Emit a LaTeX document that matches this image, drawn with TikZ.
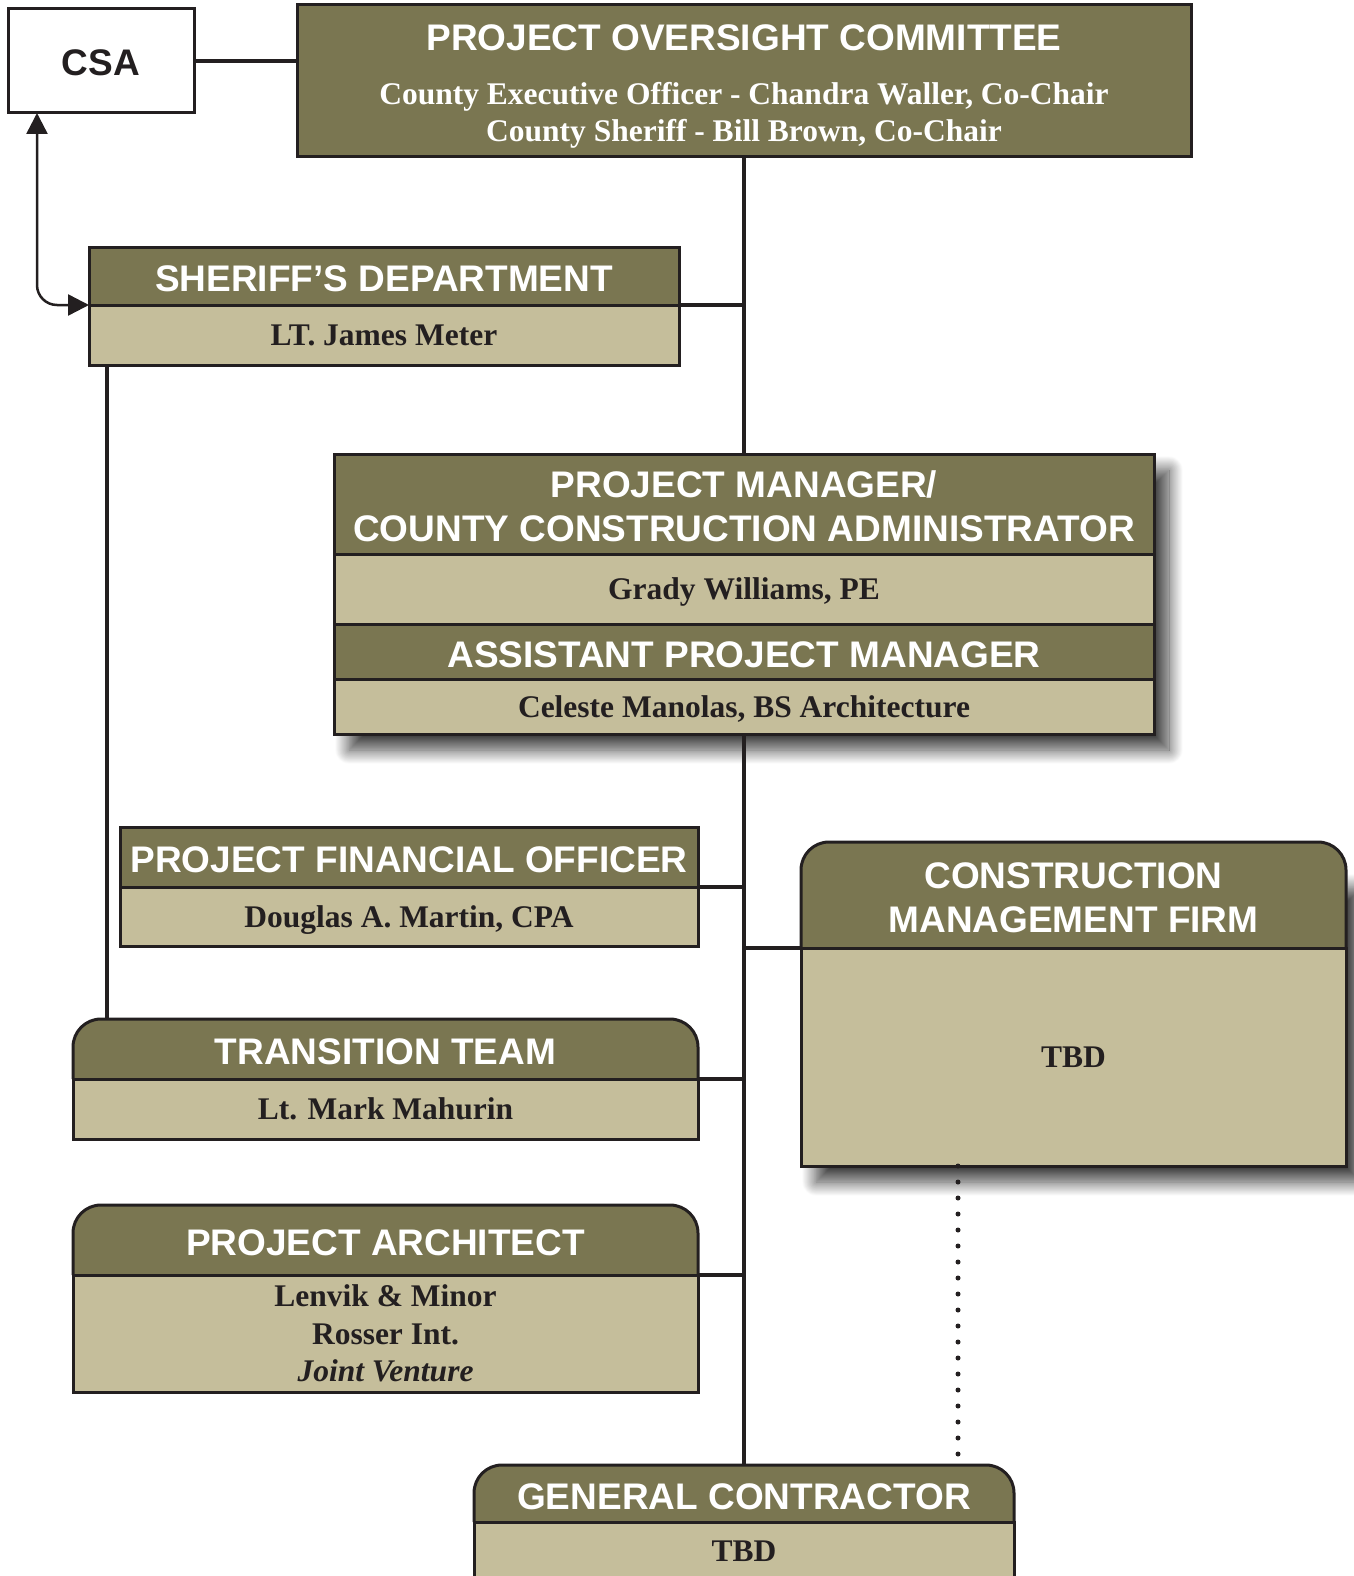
\documentclass[tikz,border=0pt]{standalone}
\usepackage{fontspec}
\setmainfont{Liberation Serif}
\newfontfamily\hsans{Liberation Sans}
\usetikzlibrary{arrows.meta,shadows.blur,backgrounds}
\definecolor{olivehd}{RGB}{122,118,81}
\definecolor{tanbody}{RGB}{197,190,155}
\definecolor{inkline}{RGB}{35,31,32}
\newcommand\hstrut{\rule{0pt}{31.5pt}}
\tikzset{
  part/.style={rectangle, inner sep=0pt, outer sep=0pt, text depth=0pt, align=center},
  box/.style={part, draw=inkline, line width=3pt},
  hfont/.style={font=\hsans\bfseries\fontsize{37}{44}\selectfont},
  hdr/.style={box, fill=olivehd, text=white, hfont},
  hdrr/.style={part, text=white, hfont},
  bdy/.style={box, fill=tanbody, text=inkline, font=\bfseries\fontsize{31.5}{37.5}\selectfont},
  conn/.style={draw=inkline, line width=4pt},
  arrowln/.style={draw=inkline, line width=2.5pt, rounded corners=20pt,
    {Triangle[length=21pt,width=21pt]}-{Triangle[length=21pt,width=21pt]}},
  dotline/.style={draw=inkline, line width=5pt, line cap=round, dash pattern=on 0pt off 16pt},
  roundhdr/.style={fill=olivehd, draw=inkline, line width=3pt, rounded corners=28pt},
  shade/.style={blur shadow={shadow xshift=15pt, shadow yshift=-16pt, shadow blur radius=14pt, shadow blur steps=20, shadow opacity=75}},
}
\begin{document}
\begin{tikzpicture}[x=1pt, y=-1pt]
\useasboundingbox (0,0) rectangle (1353,1576);

% CSA
\node[box, fill=white, text=inkline, hfont, minimum width=186, minimum height=104] (csa) at (101,61) {\rule{0pt}{29pt}CSA};

% Project Oversight Committee
\node[box, fill=olivehd, text=white, minimum width=894, minimum height=151,
  font=\bfseries\fontsize{31.5}{37.5}\selectfont] (poc) at (744,80.5)
  {{\hsans\fontsize{37}{37.5}\selectfont\hstrut PROJECT OVERSIGHT COMMITTEE}\\[16pt]
   County Executive Officer - Chandra Waller, Co-Chair\\
   County Sheriff - Bill Brown, Co-Chair};

% Sheriff's Department
\node[hdr, minimum width=590, minimum height=58] (sherH) at (384,276) {\hstrut SHERIFF’S DEPARTMENT};
\node[bdy, minimum width=590, minimum height=60] (sherB) at (384,335) {LT. James Meter};

% Project manager block
\node[hdr, minimum width=820, minimum height=100] (pmH1) at (744,504) {\hstrut PROJECT MANAGER/\\COUNTY CONSTRUCTION ADMINISTRATOR};
\node[bdy, minimum width=820, minimum height=70] (pmB1) at (744,589) {Grady Williams, PE};
\node[hdr, minimum width=820, minimum height=55] (pmH2) at (744,651.5) {\hstrut ASSISTANT PROJECT MANAGER};
\node[bdy, minimum width=820, minimum height=55] (pmB2) at (744,706.5) {Celeste Manolas, BS Architecture};

% Project financial officer
\node[hdr, minimum width=578, minimum height=60] (pfoH) at (409,857) {\hstrut PROJECT FINANCIAL OFFICER};
\node[bdy, minimum width=578, minimum height=59] (pfoB) at (409,916.5) {Douglas A. Martin, CPA};

% Construction management firm
\node[hdrr, minimum width=545, minimum height=106] (cmH) at (1073.5,895) {\hstrut CONSTRUCTION\\MANAGEMENT FIRM};
\node[bdy, minimum width=545, minimum height=218] (cmB) at (1073.5,1057) {TBD};

% Transition team
\node[hdrr, minimum width=625, minimum height=60] (ttH) at (385.5,1049) {\hstrut TRANSITION TEAM};
\node[bdy, minimum width=625, minimum height=60] (ttB) at (385.5,1109) {Lt. Mark Mahurin};

% Project architect
\node[hdrr, minimum width=625, minimum height=70] (paH) at (385.5,1240) {\hstrut PROJECT ARCHITECT};
\node[bdy, minimum width=625, minimum height=117] (paB) at (385.5,1333.5) {Lenvik \& Minor\\Rosser Int.\\\textit{Joint Venture}};

% General contractor
\node[hdrr, minimum width=540, minimum height=57] (gcH) at (744,1493.5) {\hstrut GENERAL CONTRACTOR};
\node[bdy, minimum width=540, minimum height=58] (gcB) at (744,1551) {TBD};

\begin{pgfonlayer}{background}
  \path[shade, fill=white] (pmH1.north west) rectangle (pmB2.south east);
  \path[shade, fill=tanbody] ([yshift=-30pt]cmH.north west) rectangle (cmB.south east);
  \path[roundhdr] (cmH.south west) -- (cmH.north west) -- (cmH.north east) -- (cmH.south east);
  \path[roundhdr] (ttH.south west) -- (ttH.north west) -- (ttH.north east) -- (ttH.south east);
  \path[roundhdr] (paH.south west) -- (paH.north west) -- (paH.north east) -- (paH.south east);
  \path[roundhdr] (gcH.south west) -- (gcH.north west) -- (gcH.north east) -- (gcH.south east);
\end{pgfonlayer}

% connectors
\coordinate (sherx) at (107,0);
\coordinate (dotx) at (958,0);
\draw[conn] (csa.east) -- (csa.east -| poc.west);
\draw[conn] (poc.south) -- (pmH1.north);
\draw[conn] (sherH.south east) -- (sherH.south east -| poc.south);
\draw[conn] (pmB2.south) -- (gcH.north);
\draw[conn] (pfoH.south east) -- (pfoH.south east -| pmB2.south);
\draw[conn] (cmH.south west) -- (cmH.south west -| pmB2.south);
\draw[conn] (ttH.south east) -- (ttH.south east -| pmB2.south);
\draw[conn] (paH.south east) -- (paH.south east -| pmB2.south);
\draw[conn] (sherB.south -| sherx) -- (ttH.north -| sherx);
\draw[arrowln] ([xshift=29pt]csa.south west) |- (sherH.south west);
\draw[dotline] (cmB.south -| dotx) -- (gcH.north -| dotx);
\end{tikzpicture}
\end{document}
